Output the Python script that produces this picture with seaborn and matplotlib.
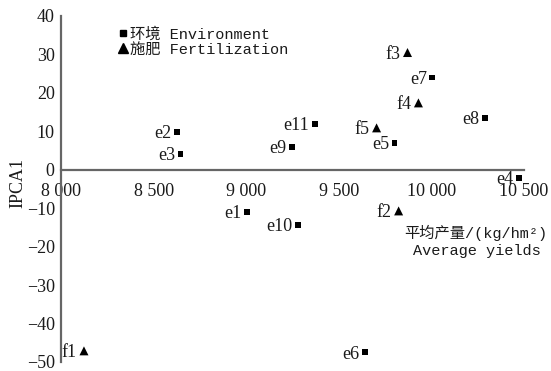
import matplotlib
matplotlib.use("Agg")
import matplotlib.pyplot as plt
import matplotlib.ticker as mticker
from matplotlib.lines import Line2D
import pandas as pd
import seaborn as sns

# --- datos ---
env_labels = ['e1', 'e2', 'e3', 'e4', 'e5', 'e6', 'e7', 'e8', 'e9', 'e10', 'e11']
env_x = [9005, 8624, 8645, 10473, 9801, 9640, 10005, 10290, 9247, 9280, 9371]
env_y = [-10.9, 9.9, 4.2, -2.1, 7.0, -47.4, 24.0, 13.5, 6.0, -14.3, 12.0]

fert_labels = ['f1', 'f2', 'f3', 'f4', 'f5']
fert_x = [8124, 9823, 9871, 9930, 9704]
fert_y = [-47.1, -10.7, 30.5, 17.4, 10.9]

x_ticks = [8000, 8500, 9000, 9500, 10000, 10500]
y_ticks = [40, 30, 20, 10, 0, -10, -20, -30, -40, -50]

sns.set_style('white')
plt.rcParams['font.family'] = ['Liberation Serif', 'DejaVu Serif']
plt.rcParams['axes.unicode_minus'] = True

df_env = pd.DataFrame({'x': env_x, 'y': env_y, 'lab': env_labels})
df_fert = pd.DataFrame({'x': fert_x, 'y': fert_y, 'lab': fert_labels})

fig = plt.figure(figsize=(5.51, 3.71), dpi=100)
ax = fig.add_axes([61 / 551, 1 - 362 / 371, 463 / 551, 346 / 371])

sns.scatterplot(data=df_env, x='x', y='y', marker='s', s=18, color='black',
                edgecolor='none', ax=ax, zorder=3)
sns.scatterplot(data=df_fert, x='x', y='y', marker='^', s=42, color='black',
                edgecolor='none', ax=ax, zorder=3)

for _, r in df_env.iterrows():
    ax.annotate(r['lab'], (r['x'], r['y']), xytext=(-4, 0), textcoords='offset points',
                ha='right', va='center_baseline', fontsize=13, color='#1a1a1a',
                annotation_clip=False)
for _, r in df_fert.iterrows():
    ax.annotate(r['lab'], (r['x'], r['y']), xytext=(-5, 0), textcoords='offset points',
                ha='right', va='center_baseline', fontsize=13, color='#1a1a1a',
                annotation_clip=False)

ax.set_xlim(8000, 10500)
ax.set_ylim(-50, 40)
ax.set_xticks(x_ticks)
ax.set_yticks(y_ticks)
ax.xaxis.set_major_formatter(mticker.FuncFormatter(lambda v, p: f'{int(v):,}'.replace(',', ' ')))
ax.yaxis.set_major_formatter(mticker.FuncFormatter(lambda v, p: f'{int(v)}'.replace('-', '\u2212')))

for s in ['top', 'right']:
    ax.spines[s].set_visible(False)
ax.spines['bottom'].set_position(('data', 0))
ax.spines['left'].set_position(('data', 8000))
for s in ['bottom', 'left']:
    ax.spines[s].set_color('#666666')
    ax.spines[s].set_linewidth(1.6)

ax.tick_params(axis='both', direction='inout', length=7, width=1.2, color='#555555',
               labelsize=13, labelcolor='#1a1a1a')
ax.tick_params(axis='x', pad=6)
ax.tick_params(axis='y', pad=1)
ax.set_xlabel('')
ax.set_ylabel('')

fig.text(18 / 551, 1 - 183 / 371, 'IPCA1', rotation=90, ha='center', va='center',
         fontsize=13, color='#1a1a1a')

mono = ['Liberation Mono', 'Noto Sans CJK SC']
fig.text(476 / 551, 1 - 233 / 371, '平均产量/(kg/hm²)', ha='center', va='center',
         fontsize=11, family=mono, color='#1a1a1a')
fig.text(477 / 551, 1 - 251 / 371, 'Average yields', ha='center', va='center',
         fontsize=11, family=mono, color='#1a1a1a')

handles = [
    Line2D([], [], marker='s', color='black', linestyle='none', markersize=4),
    Line2D([], [], marker='^', color='black', linestyle='none', markersize=7),
]
leg = ax.legend(handles, ['环境 Environment', '施肥 Fertilization'], loc='upper left',
                bbox_to_anchor=(0.11, 0.985), frameon=False, handlelength=0.6,
                handletextpad=0.2, labelspacing=0.05, borderaxespad=0,
                prop={'family': mono, 'size': 11})
for t in leg.get_texts():
    t.set_color('#1a1a1a')

fig.savefig('out.png', dpi=100)
